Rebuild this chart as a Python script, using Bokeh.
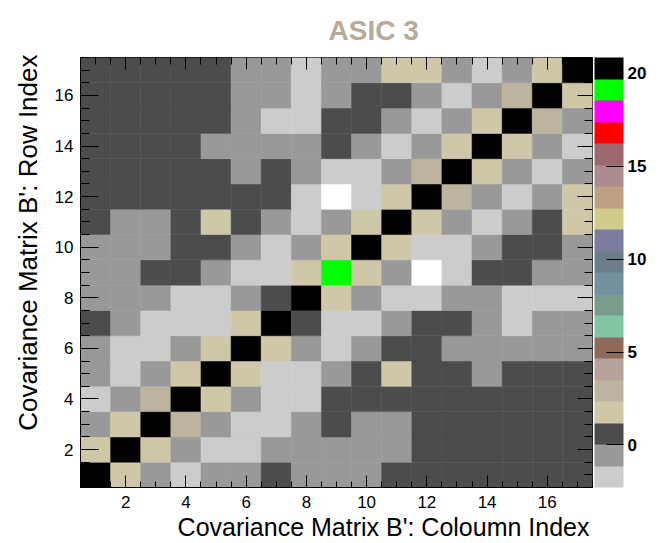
from bokeh.plotting import figure
from bokeh.models import (LinearColorMapper, ColorBar, LinearAxis, Title,
                          FixedTicker, SingleIntervalTicker, ColumnDataSource, Range1d)
from bokeh.embed import file_html
from bokeh.resources import INLINE

# Covariance matrix B' for ASIC 3; row_01 is row index 1 (bottom), columns 1..17
row_01 = [20.3, 1.7, -0.5, -1.7, -0.5, -0.5, 0.6, -0.5, -0.5, -0.5, 0.6, 0.6, 0.6, 0.6, 0.6, 0.6, 0.6]
row_02 = [1.7, 20.3, 1.7, -0.5, -1.7, -1.7, -0.5, -0.5, -0.5, -0.5, -0.5, 0.6, 0.6, 0.6, 0.6, 0.6, 0.6]
row_03 = [-0.5, 1.7, 20.3, 2.9, -0.5, -1.7, -1.7, -0.5, 0.6, -0.5, -0.5, 0.6, 0.6, 0.6, 0.6, 0.6, 0.6]
row_04 = [-1.7, -0.5, 2.9, 20.3, 1.7, -0.5, -1.7, -1.7, 0.6, 0.6, 0.6, 0.6, 0.6, 0.6, 0.6, 0.6, 0.6]
row_05 = [-0.5, -1.7, -0.5, 1.7, 20.3, 1.7, -1.7, -1.7, -0.5, 0.6, 1.7, 0.6, 0.6, -0.5, 0.6, 0.6, 0.6]
row_06 = [-0.5, -1.7, -1.7, -0.5, 1.7, 20.3, 1.7, -0.5, -1.7, -0.5, 0.6, 0.6, -0.5, -0.5, -0.5, -0.5, -0.5]
row_07 = [0.6, -0.5, -1.7, -1.7, -1.7, 1.7, 20.3, 0.6, -1.7, -1.7, -0.5, 0.6, 0.6, -0.5, -1.7, -0.5, -0.5]
row_08 = [-0.5, -0.5, -0.5, -1.7, -1.7, -0.5, 0.6, 20.3, 1.7, -0.5, -1.7, -1.7, -0.5, -0.5, -1.7, -1.7, -1.7]
row_09 = [-0.5, -0.5, 0.6, 0.6, -0.5, -1.7, -1.7, 1.7, 19.2, 1.7, -0.5, -2.6, -1.7, 0.6, 0.6, -0.5, -0.5]
row_10 = [-0.5, -0.5, -0.5, 0.6, 0.6, -0.5, -1.7, -0.5, 1.7, 20.3, 1.7, -1.7, -1.7, -0.5, 0.6, 0.6, -0.5]
row_11 = [0.6, -0.5, -0.5, 0.6, 1.7, 0.6, -0.5, -1.7, -0.5, 1.7, 20.3, 1.7, -0.5, -1.7, -0.5, 0.6, 1.7]
row_12 = [0.6, 0.6, 0.6, 0.6, 0.6, 0.6, 0.6, -1.7, -2.6, -1.7, 1.7, 20.3, 2.9, -0.5, -1.7, -0.5, 1.7]
row_13 = [0.6, 0.6, 0.6, 0.6, 0.6, -0.5, 0.6, -0.5, -1.7, -1.7, -0.5, 2.9, 20.3, 1.7, -0.5, -1.7, -0.5]
row_14 = [0.6, 0.6, 0.6, 0.6, -0.5, -0.5, -0.5, -0.5, 0.6, -0.5, -1.7, -0.5, 1.7, 20.3, 1.7, -0.5, -1.7]
row_15 = [0.6, 0.6, 0.6, 0.6, 0.6, -0.5, -1.7, -1.7, 0.6, 0.6, -0.5, -1.7, -0.5, 1.7, 20.3, 2.9, -0.5]
row_16 = [0.6, 0.6, 0.6, 0.6, 0.6, -0.5, -0.5, -1.7, -0.5, 0.6, 0.6, -0.5, -1.7, -0.5, 2.9, 20.3, 1.7]
row_17 = [0.6, 0.6, 0.6, 0.6, 0.6, -0.5, -0.5, -1.7, -0.5, -0.5, 1.7, 1.7, -0.5, -1.7, -0.5, 1.7, 20.3]

rows = [row_01, row_02, row_03, row_04, row_05, row_06, row_07, row_08, row_09,
        row_10, row_11, row_12, row_13, row_14, row_15, row_16, row_17]

z_min = -2.29
z_max = 20.85
colorbar_ticks = [0, 5, 10, 15, 20]

# 20-step palette, lowest band first
palette = [
    "#cccccc", "#999999", "#4c4c4c", "#cec8a8", "#bbb5a0",
    "#b8a19a", "#8e6a5a", "#80c6a4", "#7a9c8c", "#72909e",
    "#6c7e8a", "#7c7c9e", "#d2cc8c", "#c0a084", "#ab8b8f",
    "#9c6870", "#ff0000", "#ff00ff", "#00ff00", "#000000",
]

xs, ys, vs = [], [], []
for r, row in enumerate(rows, start=1):
    for c, v in enumerate(row, start=1):
        xs.append(c)
        ys.append(r)
        vs.append(v)
source = ColumnDataSource(dict(x=xs, y=ys, v=vs))

mapper = LinearColorMapper(palette=palette, low=z_min, high=z_max,
                           low_color="white", high_color="#000000")

FONT = "Liberation Sans"

p = figure(width=658, height=543,
           x_range=Range1d(0.5, 17.5), y_range=Range1d(0.5, 17.5),
           output_backend="svg", toolbar_location=None, title=None,
           min_border_left=80, min_border_right=66,
           min_border_top=54, min_border_bottom=56)
p.outline_line_color = "black"
p.outline_line_width = 1
p.xgrid.visible = False
p.ygrid.visible = False
p.background_fill_color = "white"
p.border_fill_color = "white"

p.rect(x="x", y="y", width=1, height=1, source=source,
       fill_color={"field": "v", "transform": mapper},
       line_color={"field": "v", "transform": mapper}, line_width=0.5)

def style_axis(ax, tick_in, minor_in, labels=True):
    ax.ticker = SingleIntervalTicker(interval=2, num_minor_ticks=4)
    ax.major_tick_in = tick_in
    ax.major_tick_out = 0
    ax.minor_tick_in = minor_in
    ax.minor_tick_out = 0
    ax.major_tick_line_color = "black"
    ax.minor_tick_line_color = "black"
    ax.axis_line_color = "black"
    if labels:
        ax.major_label_text_font = FONT
        ax.major_label_text_font_size = "17px"
        ax.major_label_text_color = "black"
    else:
        # mirrored axis: tick marks only
        ax.major_label_overrides = {t: "" for t in range(0, 20, 2)}
        ax.major_label_text_font_size = "1px"
        ax.major_label_standoff = 0
        ax.axis_line_color = None

xaxis = p.xaxis[0]
yaxis = p.yaxis[0]
style_axis(xaxis, 12, 6)
style_axis(yaxis, 18, 9)
xaxis.major_label_standoff = 8
yaxis.major_label_standoff = 7

top_axis = LinearAxis()
style_axis(top_axis, 12, 7, labels=False)
p.add_layout(top_axis, "above")
right_axis = LinearAxis()
style_axis(right_axis, 15, 8, labels=False)
p.add_layout(right_axis, "right")

color_bar = ColorBar(color_mapper=mapper, ticker=FixedTicker(ticks=colorbar_ticks),
                     width=29, padding=0, margin=0, location=(2, 0),
                     major_tick_in=17, major_tick_out=0,
                     major_tick_line_color="black", minor_tick_line_color=None,
                     major_label_text_font=FONT, major_label_text_font_size="17px",
                     major_label_text_font_style="bold", major_label_text_color="black",
                     label_standoff=4, bar_line_color=None,
                     background_fill_color=None, border_line_color=None)
p.add_layout(color_bar, "right")

# plot title and the two axis titles
p.add_layout(Title(text="ASIC 3", text_font=FONT, text_font_size="28px",
                   text_font_style="bold", text_color="#b8aa98",
                   align="left", offset=248, standoff=24), "above")
p.add_layout(Title(text="Covariance Matrix B': Coloumn Index", text_font=FONT,
                   text_font_size="25px", text_font_style="normal",
                   text_color="black", align="right", offset=3, standoff=0), "below")
p.add_layout(Title(text="Covariance Matrix B': Row Index", text_font=FONT,
                   text_font_size="26px", text_font_style="normal",
                   text_color="black", align="right", offset=-3, standoff=18), "left")

open("out.html", "w").write(file_html(p, INLINE))
